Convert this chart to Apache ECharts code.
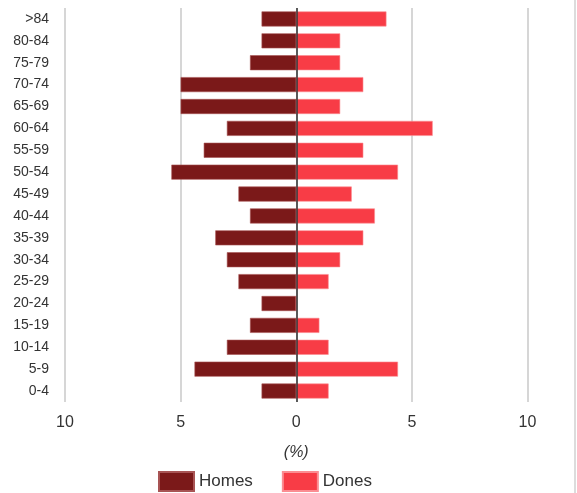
<!DOCTYPE html>
<html>
<head>
<meta charset="utf-8">
<script src="https://cdn.jsdelivr.net/npm/echarts@6/dist/echarts.min.js"></script>
<style>
html,body{margin:0;padding:0;background:#fff;}
#c{width:577px;height:493px;}
</style>
</head>
<body>
<div id="c"></div>
<script>
// Categories bottom-to-top (ECharts category y axis starts at the bottom)
const categories = ['0-4','5-9','10-14','15-19','20-24','25-29','30-34','35-39','40-44','45-49','50-54','55-59','60-64','65-69','70-74','75-79','80-84','>84'];
// Percentages
const homes = [1.5, 4.4, 3.0, 2.0, 1.5, 2.5, 3.0, 3.5, 2.0, 2.5, 5.4, 4.0, 3.0, 5.0, 5.0, 2.0, 1.5, 1.5];
const dones = [1.4, 4.4, 1.4, 1.0, 0, 1.4, 1.9, 2.9, 3.4, 2.4, 4.4, 2.9, 5.9, 1.9, 2.9, 1.9, 1.9, 3.9];
const xTicks = [-10, -5, 0, 5, 10];

const chart = echarts.init(document.getElementById('c'), null, {renderer: 'canvas'});
const font = 'Arial, "Liberation Sans", sans-serif';
chart.setOption({
  animation: false,
  textStyle: {fontFamily: font},
  grid: {left: 65, right: 49.5, top: 8, height: 394, containLabel: false},
  legend: {
    left: 158, top: 471, padding: 0,
    icon: 'rect',
    itemWidth: 35, itemHeight: 19, itemGap: 29,
    textStyle: {fontSize: 17, color: '#333', fontFamily: font},
    data: ['Homes', 'Dones']
  },
  xAxis: {
    type: 'value', min: xTicks[0], max: xTicks[xTicks.length - 1], interval: 5,
    axisLine: {show: false},
    axisTick: {show: false},
    splitLine: {show: true, lineStyle: {color: '#d6d6d6', width: 2}},
    axisLabel: {fontSize: 16, color: '#333', margin: 13, formatter: v => String(Math.abs(v))},
    name: '(%)', nameLocation: 'middle', nameGap: 43,
    nameTextStyle: {fontSize: 16, color: '#333', fontStyle: 'italic'}
  },
  yAxis: {
    type: 'category', data: categories,
    axisLine: {show: false}, axisTick: {show: false},
    axisLabel: {fontSize: 14, color: '#333', margin: 16}
  },
  series: [
    {
      name: 'Homes', type: 'bar', barWidth: 15, barGap: '-100%',
      itemStyle: {color: '#7b1919', borderColor: '#a85454', borderWidth: 0.6},
      data: homes.map(v => -v),
      markLine: {
        silent: true, symbol: 'none', label: {show: false},
        lineStyle: {color: '#3a3a3a', width: 1.6, type: 'solid'},
        data: [{xAxis: 0}]
      }
    },
    {
      name: 'Dones', type: 'bar', barWidth: 15, barGap: '-100%',
      itemStyle: {color: '#f83c46', borderColor: '#fb8d92', borderWidth: 0.6},
      data: dones
    }
  ],
  graphic: [
    {type: 'rect', left: 574, top: 0, shape: {width: 2, height: 493}, style: {fill: '#dcdcdc'}, silent: true}
  ]
});
</script>
</body>
</html>
